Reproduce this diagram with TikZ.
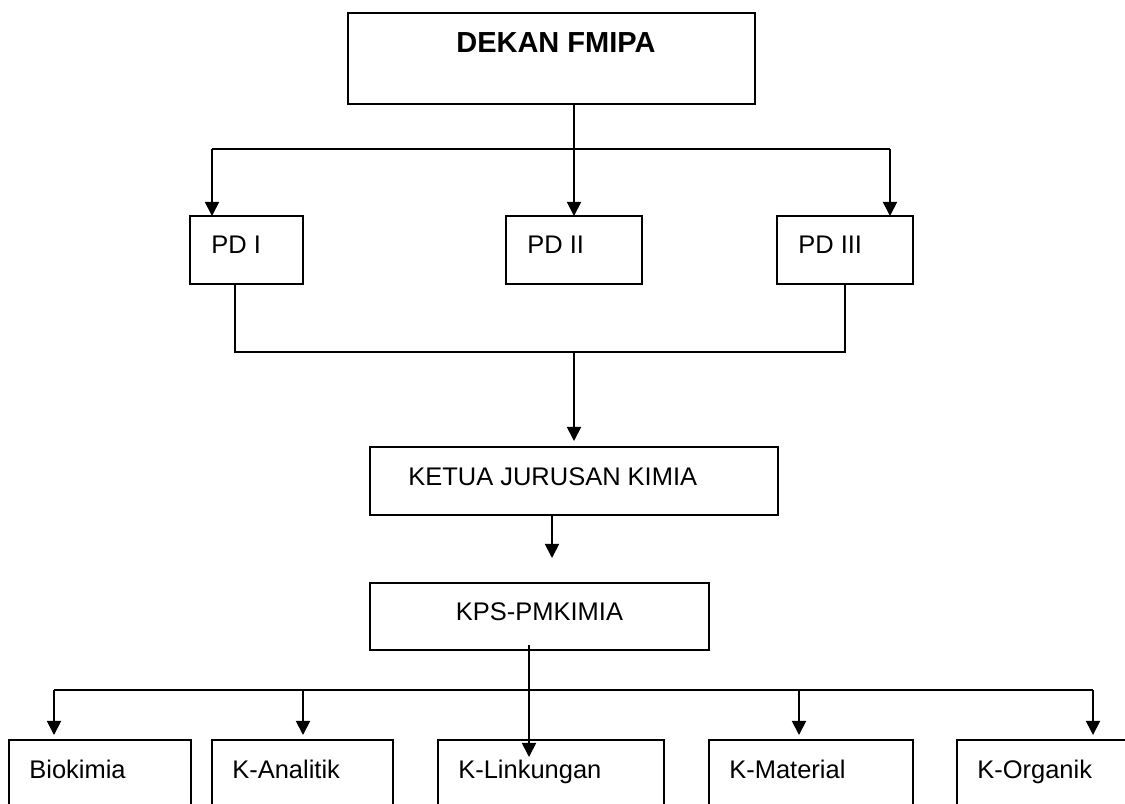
\documentclass[tikz,border=0pt]{standalone}
\usepackage{fontspec}
\setmainfont{Liberation Sans}
\usetikzlibrary{arrows.meta,calc}

\begin{document}
\begin{tikzpicture}[x=0.02cm,y=-0.02cm,
  unit/.style={draw,line width=1.1pt,inner sep=0pt,outer sep=0pt,anchor=north west},
  sz/.style 2 args={minimum width=#1*0.02cm,minimum height=#2*0.02cm},
  lbl/.style={anchor=base west,inner sep=0pt,font=\fontsize{14.5}{17}\selectfont},
  wire/.style={line width=1pt},
  arr/.style={line width=1pt,-{Triangle[width=8pt,length=8pt]}}]
\useasboundingbox (0,0) rectangle (1125,804);
\clip (0,0) rectangle (1125,804);
% dean
\node[unit,sz={407}{91}] (dekan) at (348,13) {};
\node[lbl,font=\fontsize{16.5}{20}\selectfont\bfseries] (t-dekan) at (456,53) {DEKAN FMIPA};
% deputies
\node[unit,sz={113}{68}] (pd1) at (190,216) {};
\node[unit,sz={136}{68}] (pd2) at (506,216) {};
\node[unit,sz={136}{68}] (pd3) at (777,216) {};
\node[lbl] (t-pd1) at ($(pd1.north west)+(21,38)$) {PD I};
\node[lbl] (t-pd2) at ($(pd2.north west)+(21,38)$) {PD II};
\node[lbl] (t-pd3) at ($(pd3.north west)+(21,38)$) {PD III};
\coordinate (busL) at (212,149);
\coordinate (busR) at (890,149);
\draw[wire] (busL) -- (busR);
\draw[arr] (busL) -- (busL |- pd1.north);
\draw[arr] (busR) -- (busR |- pd3.north);
\draw[arr] (dekan.south -| pd2.north) -- (pd2.north);
% department
\node[unit,sz={408}{68}] (ketua) at (370,447) {};
\node[lbl] (t-ketua) at ($(ketua.north west)+(38,38)$) {KETUA JURUSAN KIMIA};
\coordinate (j1) at (235,352);
\draw[wire] (pd1.south -| j1) -- (j1) -- (j1 -| pd3.south) -- (pd3.south);
\draw[arr,shorten >=0.12cm] (j1 -| ketua.north) -- (ketua.north);
\node[unit,sz={339}{67}] (kps) at (370,583) {};
\node[lbl,anchor=base] (t-kps) at ($(kps.north)+(0,37)$) {KPS-PMKIMIA};
\coordinate (k1) at (552,515);
\draw[arr,shorten >=0.5cm] (k1) -- (k1 |- kps.north);
% laboratories
\foreach \nm/\xx/\ww/\tx in {bio/9/182/Biokimia, ana/212/181/K-Analitik,
    lin/438/226/K-Linkungan, mat/709/204/K-Material, org/957/200/K-Organik}{
  \node[unit,sz={\ww}{100}] (\nm) at (\xx,740) {};
  \node[lbl] (t-\nm) at ($(\nm.north west)+(20,38)$) {\tx};
}
\foreach \nm/\xx in {bio/54,ana/303,mat/799,org/1093}{
  \coordinate (d-\nm) at (\xx,690);
  \draw[arr,shorten >=0.1cm] (d-\nm) -- (d-\nm |- \nm.north);
}
\draw[wire] (d-bio) -- (d-org);
\coordinate (k2) at (529,645);
\draw[arr,shorten >=-0.34cm] (k2) -- (k2 |- lin.north);
\end{tikzpicture}
\end{document}
